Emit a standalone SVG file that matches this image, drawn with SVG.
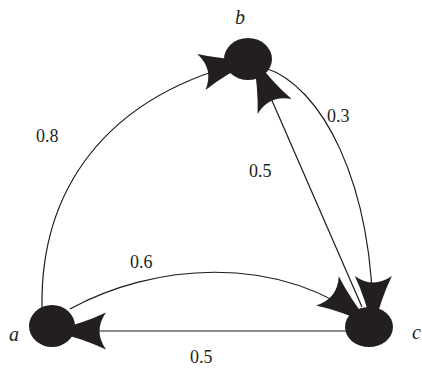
<svg xmlns="http://www.w3.org/2000/svg" width="422" height="368" viewBox="0 0 422 368">
<style>
.edge{fill:none;stroke:#1a1a1a;stroke-width:1.2}
.node{fill:#231f20}
.nl{font-family:"Liberation Serif","Times New Roman",serif;font-style:italic;font-size:20px;fill:#231f20}
.el{font-family:"Liberation Serif","Times New Roman",serif;font-size:18px;fill:#231f20}
</style>
<defs>
<marker id="arr" markerUnits="userSpaceOnUse" markerWidth="60" markerHeight="60" refX="0" refY="0" orient="auto" overflow="visible">
<path d="M0,0 Q-32,-8 -54,-18.5 Q-41,0 -54,18.5 Q-32,8 0,0 Z" fill="#231f20"/>
</marker>
</defs>
<rect width="422" height="368" fill="#fff"/>
<g id="connectors">
<path class="edge" d="M42,308 C40,195 100,95 254,60" marker-end="url(#arr)"/>
<path class="edge" d="M70,309 C150,265 275,250 370,324" marker-end="url(#arr)"/>
<path class="edge" d="M265,68 C320,85 374,180 373,330" marker-end="url(#arr)"/>
<path class="edge" d="M362,307 L253,57" marker-end="url(#arr)"/>
<path class="edge" d="M346,331 L52,331" marker-end="url(#arr)"/>
</g>
<g id="edge-labels">
<text class="el" x="36" y="142">0.8</text>
<text class="el" x="130" y="268">0.6</text>
<text class="el" x="249" y="177">0.5</text>
<text class="el" x="327" y="122">0.3</text>
<text class="el" x="190" y="363">0.5</text>
</g>
<g id="node-a">
<ellipse class="node" cx="52" cy="326" rx="23" ry="21"/>
<text class="nl" x="9" y="341">a</text>
</g>
<g id="node-b">
<ellipse class="node" cx="248" cy="59" rx="24" ry="21"/>
<text class="nl" x="240" y="24" text-anchor="middle">b</text>
</g>
<g id="node-c">
<ellipse class="node" cx="369" cy="327" rx="24" ry="20"/>
<text class="nl" x="412" y="339">c</text>
</g>
</svg>
